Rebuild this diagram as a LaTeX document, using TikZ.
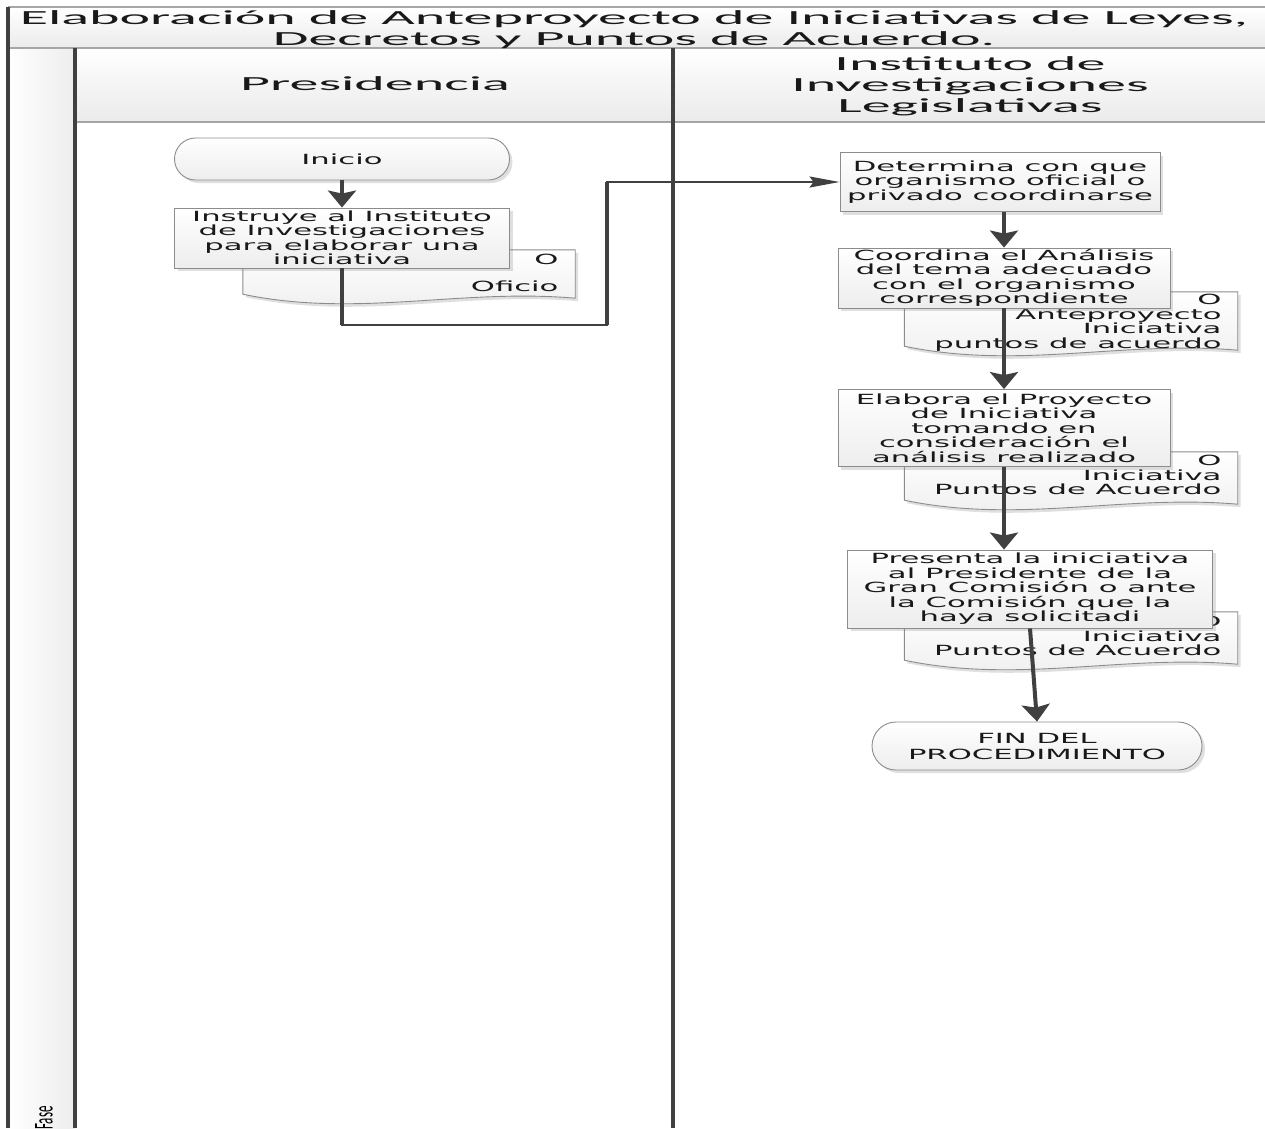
\documentclass[tikz,border=0pt]{standalone}
\usepackage{fontspec}
\setmainfont{Carlito}
\newfontfamily\titlefont[FakeStretch=2.9]{Carlito}
\newfontfamily\boxfont[FakeStretch=2.19]{DejaVu Sans}
\usepackage{tikz}
\usetikzlibrary{arrows.meta,shapes.misc,shadows}

\definecolor{inkgray}{HTML}{404040}
\definecolor{boxline}{HTML}{8C8C8C}

\newcommand\docoutline[1]{%
  \draw[docline] (#1.north west) -- (#1.north east) -- (#1.south east)
    .. controls +(-115,-10) and +(115,24) .. ([yshift=4pt]#1.south west) -- cycle;}

\begin{document}
\begin{tikzpicture}[x=1pt, y=-1pt,
    laneline/.style={draw=inkgray, line width=3.5pt},
    bandline/.style={draw=gray!70, line width=1.6pt},
    boxtext/.style={font=\boxfont\fontsize{14}{14.5}\selectfont, text=black!90},
    headtext/.style={font=\titlefont\fontsize{20}{21}\selectfont, text=black!90},
    procbox/.style={boxtext, rectangle, draw=boxline, line width=0.9pt, top color=white, bottom color=gray!14,
        align=center, inner sep=0pt, drop shadow={shadow xshift=3pt, shadow yshift=-3pt, opacity=0.25}},
    terminal/.style={boxtext, rounded rectangle, draw=boxline, line width=0.9pt, top color=white, bottom color=gray!14,
        align=center, inner sep=0pt, drop shadow={shadow xshift=3pt, shadow yshift=-3pt, opacity=0.25}},
    docbox/.style={boxtext, rectangle, inner xsep=13pt, inner ysep=0pt, align=right},
    docline/.style={draw=boxline, line width=0.9pt, top color=white, bottom color=gray!14,
        drop shadow={shadow xshift=3pt, shadow yshift=-3pt, opacity=0.25}},
    flow/.style={draw=inkgray, line width=4pt, -{Stealth[width=28pt, length=17pt, inset=3pt]}},
    link/.style={draw=inkgray, line width=2pt, -{Stealth[width=11pt, length=30pt, inset=4pt]}},
    riser/.style={draw=inkgray, line width=4pt}]

    \useasboundingbox (0,0) rectangle (1265,1128);
    \clip (0,0) rectangle (1265,1128);

    \shade[top color=white, bottom color=gray!16] (8,7) rectangle (1265,48);
    \shade[top color=white, bottom color=gray!16] (75,48) rectangle (1265,122);
    \shade[left color=white, right color=gray!14] (8,48) rectangle (75,1128);

    \draw[bandline] (8,7) -- (1265,7);
    \draw[bandline] (8,48) -- (1265,48);
    \draw[bandline] (75,122) -- (1265,122);
    \draw[laneline] (8,7) -- (8,1128);
    \draw[laneline] (75,48) -- (75,1128);
    \draw[laneline] (673,48) -- (673,1128);

    \node[headtext, align=center] (title) at (634,30)
        {Elaboración de Anteproyecto de Iniciativas de Leyes,\\Decretos y Puntos de Acuerdo.};
    \node[headtext] (presidencia) at (375,84) {Presidencia};
    \node[headtext, align=center] (instituto) at (970,86)
        {Instituto de\\Investigaciones\\Legislativas};
    \node[font=\fontsize{13}{13}\selectfont, rotate=90] (fase) at (44,1118) {\scalebox{1}[2.1]{Fase}};

    \node[docbox, minimum width=332pt, minimum height=48pt] (oficio) at (409,274) {};
    \docoutline{oficio}
    \node[boxtext, align=right, anchor=north east] (oficiotxt) at (562,251) {O\\[12pt]Oficio};

    \node[docbox, minimum width=333pt, minimum height=58pt] (anteproy) at (1071,321) {};
    \docoutline{anteproy}
    \node[boxtext, align=right, anchor=north east] (anteproytxt) at (1225,291)
        {O\\Anteproyecto\\Iniciativa\\puntos de acuerdo};

    \node[docbox, minimum width=333pt, minimum height=52pt] (iniciat) at (1071,478) {};
    \docoutline{iniciat}
    \node[boxtext, align=right, anchor=north east] (iniciattxt) at (1225,452)
        {O\\Iniciativa\\Puntos de Acuerdo};

    \node[docbox, minimum width=333pt, minimum height=52pt] (puntos) at (1071,638) {};
    \docoutline{puntos}
    \node[boxtext, align=right, anchor=north east] (puntostxt) at (1225,613)
        {O\\Iniciativa\\Puntos de Acuerdo};

    \node[terminal, minimum width=335pt, minimum height=42pt] (inicio) at (342,159) {Inicio};
    \node[procbox, minimum width=335pt, minimum height=60pt] (instruye) at (342,238)
        {Instruye al Instituto\\de Investigaciones\\para elaborar una\\iniciativa};

    \node[procbox, minimum width=320pt, minimum height=59pt] (determina) at (1000,182)
        {Determina con que\\organismo oficial o\\privado coordinarse};
    \node[procbox, minimum width=332pt, minimum height=60pt] (coordina) at (1004,278)
        {Coordina el Análisis\\del tema adecuado\\con el organismo\\correspondiente};
    \node[procbox, minimum width=332pt, minimum height=77pt] (elabora) at (1004,428)
        {Elabora el Proyecto\\de Iniciativa\\tomando en\\consideración el\\análisis realizado};
    \node[procbox, minimum width=365pt, minimum height=78pt] (presenta) at (1030,589)
        {Presenta la iniciativa\\al Presidente de la\\Gran Comisión o ante\\la Comisión que la\\haya solicitadi};
    \node[terminal, minimum width=330pt, minimum height=48pt, font=\boxfont\fontsize{14}{16}\selectfont] (fin) at (1037,746)
        {FIN DEL\\PROCEDIMIENTO};

    \coordinate (jog) at (607,325);

    \draw[flow] (inicio.south) -- (inicio.south |- instruye.north);
    \foreach \a/\b in {determina/coordina, coordina/elabora}
        \draw[flow] (\b.north |- \a.south) -- (\b.north);
    \draw[flow] (elabora.south) -- (elabora.south |- presenta.north);
    \draw[flow] (presenta.south) -- (fin.north);

    \draw[link] (instruye.south) |- (jog) |- (determina.west);
    \draw[riser] (instruye.south) -- (instruye.south |- jog);
    \draw[riser] (jog) -- (jog |- determina.west);
\end{tikzpicture}
\end{document}
